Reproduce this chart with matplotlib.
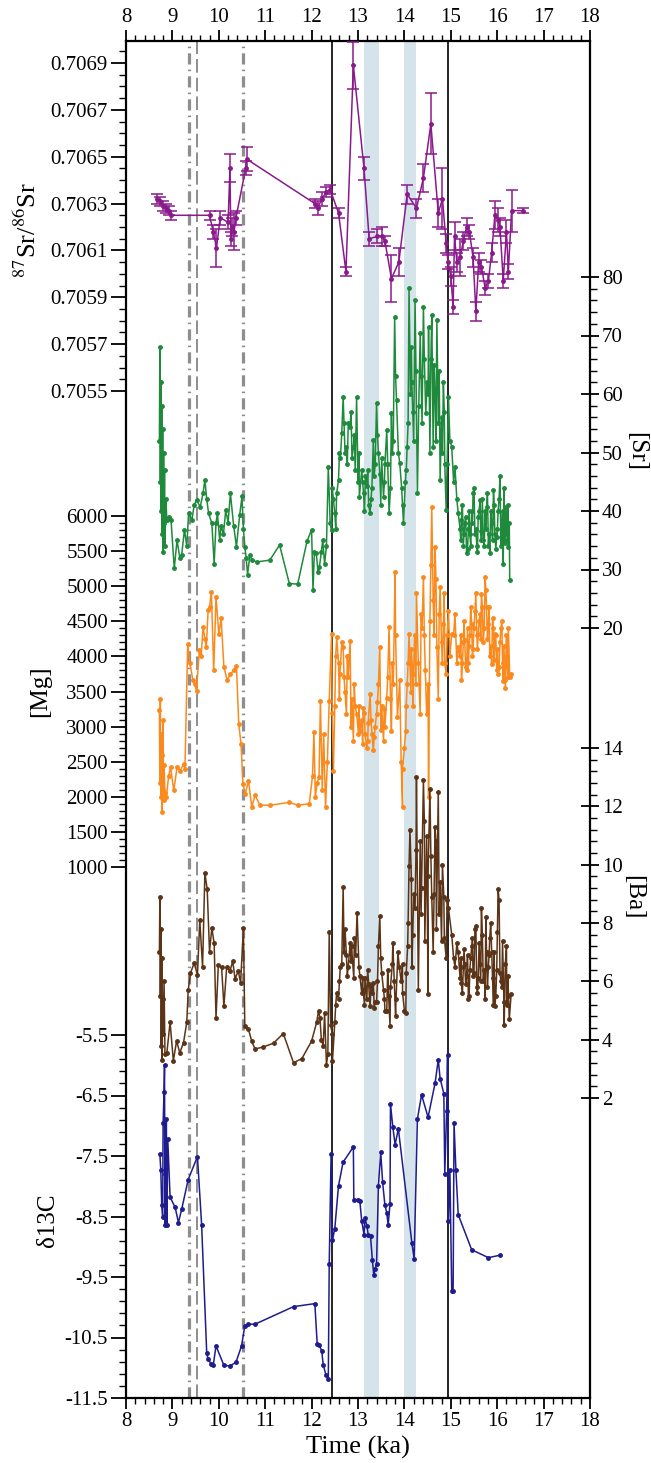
import numpy as np
import matplotlib
matplotlib.use("Agg")
import matplotlib.pyplot as plt
from matplotlib.ticker import FixedLocator, FormatStrFormatter

plt.rcParams['font.family'] = ['Liberation Serif', 'DejaVu Serif']
plt.rcParams['mathtext.fontset'] = 'stix'
plt.rcParams['axes.unicode_minus'] = False

# 87Sr/86Sr with 2-sigma bars
r_t = [8.66, 8.74, 8.80, 8.86, 8.92, 8.97, 9.80, 9.88, 9.95, 10.03,
       10.20, 10.24, 10.26, 10.28, 10.33, 10.37, 10.58, 10.60, 12.07, 12.13,
       12.22, 12.32, 12.40, 12.58, 12.74, 12.90, 13.13, 13.24, 13.42, 13.51,
       13.58, 13.72, 13.88, 14.06, 14.26, 14.41, 14.57, 14.73, 14.82, 14.90,
       14.94, 15.00, 15.05, 15.08, 15.13, 15.20, 15.27, 15.34, 15.40, 15.48,
       15.54, 15.60, 15.66, 15.74, 15.81, 15.88, 15.95, 16.02, 16.06, 16.13,
       16.20, 16.24, 16.31, 16.56]
r_v = [0.70632, 0.70631, 0.70629, 0.70628, 0.70627, 0.70625, 0.70625, 0.70618, 0.70611, 0.70624,
       0.70622, 0.70645, 0.70615, 0.70620, 0.70618, 0.70624, 0.70645, 0.70649, 0.70630, 0.70628,
       0.70632, 0.70635, 0.70636, 0.70626, 0.70601, 0.70689, 0.70645, 0.70615, 0.70616, 0.70616,
       0.70614, 0.70598, 0.70605, 0.70634, 0.70628, 0.70641, 0.70664, 0.70626, 0.70632, 0.70613,
       0.70605, 0.70599, 0.70586, 0.70616, 0.70605, 0.70607, 0.70614, 0.70620, 0.70618, 0.70607,
       0.70584, 0.70605, 0.70603, 0.70594, 0.70597, 0.70609, 0.70625, 0.70623, 0.70620, 0.70597,
       0.70618, 0.70601, 0.70627, 0.70627]
r_e = [2, 2, 2, 2, 2, 2, 2, 3, 8, 3,
       3, 6, 3, 4, 8, 3, 3, 5, 2, 3,
       3, 2, 2, 2, 2, 10, 5, 3, 3, 4,
       2, 10, 6, 4, 4, 6, 13, 6, 13, 4,
       3, 4, 3, 6, 4, 8, 4, 4, 3, 4,
       4, 4, 3, 3, 3, 4, 6, 5, 4, 3,
       5, 3, 9, 1]  # x 1e-5

# [Sr]
sr_t = [8.72, 8.73, 8.74, 8.75, 8.76, 8.77, 8.78, 8.79, 8.80, 8.81,
        8.82, 8.83, 8.84, 8.86, 8.88, 8.92, 8.97, 9.04, 9.10, 9.16,
        9.20, 9.26, 9.31, 9.35, 9.42, 9.47, 9.52, 9.60, 9.66, 9.70,
        9.74, 9.78, 9.85, 9.90, 9.94, 9.97, 10.02, 10.05, 10.10, 10.15,
        10.20, 10.25, 10.32, 10.38, 10.45, 10.50, 10.53, 10.56, 10.59, 10.62,
        10.67, 10.72, 10.82, 11.10, 11.31, 11.52, 11.70, 11.90, 12.00, 12.03,
        12.06, 12.10, 12.14, 12.17, 12.21, 12.24, 12.28, 12.32, 12.36, 12.40,
        12.43, 12.47, 12.50, 12.54, 12.58, 12.62, 12.65, 12.68, 12.72, 12.75,
        12.79, 12.83, 12.87, 12.90, 12.94, 12.97, 13.00, 13.03, 13.08, 13.12,
        13.16, 13.19, 13.23, 13.26, 13.30, 13.33, 13.37, 13.40, 13.44, 13.47,
        13.51, 13.55, 13.58, 13.62, 13.67, 13.72, 13.76, 13.79, 13.83, 13.87,
        13.90, 13.94, 13.98, 14.02, 14.06, 14.10, 14.13, 14.16, 14.20, 14.23,
        14.28, 14.31, 14.34, 14.38, 14.41, 14.46, 14.49, 14.52, 14.55, 14.59,
        14.62, 14.66, 14.70, 14.73, 14.77, 14.80, 14.84, 14.87, 14.90, 14.95,
        14.98, 15.02, 15.06, 15.09, 15.13, 15.16, 15.20, 15.23, 15.27, 15.30,
        15.34, 15.38, 15.41, 15.45, 15.48, 15.52, 15.56, 15.59, 15.63, 15.66,
        15.70, 15.74, 15.77, 15.81, 15.84, 15.88, 15.92, 15.95, 15.99, 16.02,
        16.06, 16.10, 16.13, 16.16, 16.19, 16.22, 16.24, 16.26, 16.27]
sr_v = [52, 68, 45, 62, 40, 58, 36, 54, 33, 50,
        38, 47, 34, 42, 38.5, 39, 38.5, 30.2, 35, 32,
        32.5, 36.8, 34, 39.6, 38.5, 41, 41.9, 40.7, 43, 45.3,
        42, 39.6, 37.9, 31.0, 38, 39.6, 35, 37.5, 36, 40.2,
        38, 43, 37.5, 33.9, 39.3, 42.5, 37, 33.9, 32, 29.1,
        32.5, 31.6, 31.3, 31.6, 34.2, 27.6, 27.5, 34.8, 36.8, 26.5,
        33, 32.8, 29.5, 30.5, 33, 35, 31, 34, 47.6, 38,
        36.8, 42, 39.6, 43, 45.3, 49, 53.3, 59.5, 50, 51,
        55, 54.4, 49, 51, 47, 59.5, 45, 42.4, 47, 43,
        46, 44.2, 41, 39.6, 44, 52.1, 48, 58.4, 50, 46.4,
        49, 42.4, 48, 53.8, 39.6, 56.7, 52, 73.2, 59, 50,
        48.2, 44, 37.9, 45, 51, 78.1, 60, 62, 52, 76,
        43, 58, 70.4, 55, 74.9, 56.7, 62, 71.5, 50, 73.5,
        51, 60, 72.6, 55, 45.3, 56, 62, 48, 40.2, 59.5,
        52, 51, 45, 47.6, 42, 39.6, 37, 38.5, 34, 38,
        32.8, 37, 36, 40, 43, 36, 34, 39, 41.9, 35,
        35, 40, 40.7, 34, 32.8, 38, 43.6, 36, 35.6, 40,
        45.9, 37, 31, 36, 40.7, 35, 33.9, 38, 28.2]

# [Mg]
mg_t = [8.72, 8.73, 8.74, 8.75, 8.76, 8.77, 8.78, 8.79, 8.80, 8.81,
        8.82, 8.84, 8.87, 8.92, 8.96, 9.03, 9.10, 9.17, 9.24, 9.27,
        9.33, 9.38, 9.44, 9.48, 9.52, 9.58, 9.62, 9.66, 9.70, 9.73,
        9.77, 9.80, 9.84, 9.89, 9.94, 10.00, 10.05, 10.11, 10.18, 10.25,
        10.32, 10.38, 10.43, 10.48, 10.52, 10.57, 10.64, 10.71, 10.78, 10.89,
        11.10, 11.52, 11.70, 11.95, 12.02, 12.05, 12.08, 12.12, 12.16, 12.19,
        12.23, 12.26, 12.30, 12.34, 12.38, 12.43, 12.47, 12.50, 12.54, 12.58,
        12.61, 12.65, 12.68, 12.72, 12.75, 12.79, 12.83, 12.87, 12.90, 12.94,
        12.97, 13.01, 13.04, 13.08, 13.11, 13.15, 13.19, 13.22, 13.26, 13.30,
        13.33, 13.37, 13.40, 13.44, 13.47, 13.51, 13.55, 13.58, 13.62, 13.67,
        13.72, 13.76, 13.80, 13.85, 13.90, 13.93, 13.96, 14.00, 14.03, 14.06,
        14.10, 14.14, 14.18, 14.22, 14.26, 14.30, 14.34, 14.38, 14.41, 14.45,
        14.48, 14.52, 14.55, 14.59, 14.62, 14.66, 14.70, 14.73, 14.77, 14.80,
        14.84, 14.87, 14.90, 14.95, 14.98, 15.02, 15.06, 15.09, 15.13, 15.16,
        15.20, 15.23, 15.27, 15.30, 15.34, 15.38, 15.41, 15.45, 15.48, 15.52,
        15.56, 15.59, 15.63, 15.66, 15.70, 15.74, 15.77, 15.81, 15.84, 15.88,
        15.92, 15.95, 15.99, 16.02, 16.06, 16.10, 16.13, 16.17, 16.20, 16.24,
        16.27, 16.29]
mg_v = [3230, 2200, 3400, 2000, 2900, 1780, 2600, 2100, 3100, 1950,
        2450, 2050, 2000, 2300, 2420, 2090, 2420, 2370, 2470, 2400,
        4180, 3900, 3660, 3600, 3510, 4090, 4000, 4420, 4250, 4130,
        4660, 4700, 4920, 3800, 4850, 4320, 4540, 3850, 3660, 3750,
        3800, 3870, 3040, 2750, 2180, 2040, 2230, 1850, 2020, 1880,
        1880, 1920, 1880, 1900, 2300, 2920, 2000, 2200, 2280, 3370,
        2100, 2900, 1850, 2500, 3370, 4320, 2370, 3300, 4280, 3900,
        3750, 4200, 4130, 3500, 3180, 3700, 4220, 3400, 2800, 3300,
        3180, 2900, 2940, 3100, 3270, 2900, 2700, 3050, 3460, 2900,
        2660, 3000, 3180, 3600, 4130, 3300, 2800, 3000, 3410, 4420,
        2940, 3600, 5200, 3130, 3660, 2500, 1850, 2700, 2940, 3600,
        4320, 3500, 3750, 4300, 4900, 3900, 3180, 4400, 5130, 3800,
        3180, 2000, 4500, 6130, 4800, 5560, 4130, 3400, 4990, 4200,
        4460, 3900, 3750, 4650, 4000, 4320, 4300, 4610, 3900, 4130,
        4000, 3660, 4200, 4230, 3800, 3900, 4300, 4460, 4100, 4650,
        4300, 4320, 4600, 4890, 4200, 5130, 4700, 4460, 4000, 3890,
        4400, 4320, 3800, 3750, 4200, 4510, 3650, 3660, 4300, 4410,
        3700, 3750]

# [Ba]
ba_t = [8.72, 8.73, 8.74, 8.75, 8.76, 8.77, 8.78, 8.79, 8.80, 8.82,
        8.84, 8.88, 8.95, 9.02, 9.09, 9.16, 9.24, 9.31, 9.34, 9.39,
        9.47, 9.54, 9.59, 9.65, 9.70, 9.75, 9.80, 9.85, 9.90, 9.94,
        9.99, 10.06, 10.11, 10.17, 10.24, 10.30, 10.35, 10.42, 10.47, 10.53,
        10.56, 10.64, 10.71, 10.78, 10.96, 11.18, 11.39, 11.61, 11.79, 12.00,
        12.11, 12.15, 12.18, 12.21, 12.25, 12.28, 12.32, 12.35, 12.38, 12.41,
        12.45, 12.50, 12.54, 12.58, 12.62, 12.65, 12.68, 12.72, 12.75, 12.79,
        12.83, 12.86, 12.91, 12.95, 12.98, 13.04, 13.08, 13.11, 13.15, 13.19,
        13.23, 13.26, 13.30, 13.33, 13.37, 13.40, 13.44, 13.47, 13.51, 13.55,
        13.58, 13.62, 13.66, 13.69, 13.75, 13.78, 13.82, 13.86, 13.89, 13.93,
        13.96, 14.00, 14.03, 14.07, 14.10, 14.12, 14.16, 14.20, 14.23, 14.26,
        14.30, 14.34, 14.37, 14.41, 14.44, 14.48, 14.51, 14.55, 14.59, 14.62,
        14.66, 14.69, 14.73, 14.77, 14.80, 14.85, 14.90, 14.95, 15.02, 15.06,
        15.09, 15.13, 15.16, 15.20, 15.23, 15.27, 15.30, 15.34, 15.38, 15.41,
        15.45, 15.48, 15.52, 15.56, 15.59, 15.63, 15.66, 15.70, 15.74, 15.77,
        15.81, 15.84, 15.88, 15.92, 15.95, 15.99, 16.02, 16.06, 16.10, 16.15,
        16.20, 16.23, 16.26, 16.30]
ba_v = [7.0, 8.9, 5.5, 7.8, 3.8, 6.8, 3.3, 5.4, 4.2, 6.0,
        3.5, 3.54, 4.6, 3.28, 3.95, 3.55, 3.9, 4.6, 5.69, 6.29,
        6.62, 6.22, 8.09, 6.5, 9.7, 9.16, 7.02, 7.83, 7.3, 4.75,
        6.55, 6.49, 5.15, 6.49, 6.35, 6.69, 6.09, 6.35, 5.95, 7.83,
        4.48, 4.35, 3.95, 3.68, 3.75, 3.88, 4.21, 3.21, 3.35, 3.95,
        4.6, 5.0, 4.75, 4.0, 3.8, 4.9, 3.14, 3.5, 7.7, 4.5,
        3.28, 4.6, 5.6, 5.4, 6.5, 6.6, 9.23, 7.8, 6.9, 6.5,
        7.3, 7.2, 6.1, 6.9, 8.36, 6.2, 5.6, 5.7, 6.1, 5.4,
        5.9, 5.15, 5.6, 5.95, 5.3, 5.3, 7.2, 8.23, 6.3, 5.7,
        5.0, 5.0, 5.5, 4.48, 7.3, 6.0, 5.4, 7.0, 6.5, 6.0,
        6.6, 5.0, 4.9, 7.2, 9.97, 11.19, 6.5, 9.0, 8.5, 13.0,
        5.7, 10.8, 9.2, 12.9, 7.4, 11.0, 5.55, 12.6, 8.9, 7.0,
        11.3, 7.8, 12.5, 9.4, 7.4, 8.9, 6.8, 8.5, 7.6, 6.8,
        6.5, 7.3, 7.0, 6.1, 5.95, 6.5, 6.6, 6.2, 5.4, 6.4,
        7.2, 6.2, 7.8, 5.8, 6.1, 6.6, 8.5, 6.0, 5.4, 7.0,
        6.5, 7.5, 7.0, 5.2, 5.15, 6.4, 9.16, 6.3, 5.8, 4.5,
        7.2, 5.5, 4.7, 5.55]

# extra laser spots in the dense part of the record (shared by Sr, Mg, Ba)
extra_t = [12.445, 12.52, 12.60, 12.70, 12.77, 12.85, 12.92, 13.02, 13.10, 13.14,
           13.21, 13.28, 13.35, 13.42, 13.49, 13.57, 13.64, 13.70, 13.74, 13.81,
           13.96, 14.04, 14.08, 14.15, 14.18, 14.25, 14.36, 14.43, 14.51, 14.57,
           14.64, 14.68, 14.75, 14.82, 14.86, 14.92,
           15.215, 15.25, 15.285, 15.32, 15.36, 15.395, 15.43, 15.465, 15.50, 15.54,
           15.575, 15.61, 15.645, 15.68, 15.72, 15.755, 15.79, 15.825, 15.86, 15.90,
           15.935, 15.97, 16.005, 16.04, 16.08, 16.115, 16.145, 16.175, 16.205, 16.23]
extra_sr = [44, 37, 50, 55, 48, 57, 53, 50, 45, 40,
            47, 42, 46, 53, 41, 45, 48, 44, 50, 63,
            41, 47, 55, 68, 57, 64, 63, 66, 60, 66,
            65, 52, 64, 50, 57, 48,
            35, 41, 36, 39, 33.5, 40, 34, 38, 44, 37,
            33, 40, 36.5, 42, 34, 37, 43, 36, 40, 35,
            41, 33.5, 37, 42, 34, 40, 44, 34.5, 38, 41]
extra_mg = [3200, 4000, 3400, 3700, 4000, 3000, 3600, 3300, 2750, 3200,
            2800, 3100, 2850, 3350, 2950, 3250, 3700, 3400, 3900, 4300,
            2400, 3300, 3900, 4100, 3300, 3600, 4600, 4300, 3600, 5300,
            4300, 5100, 4600, 3900, 4900, 4300,
            4300, 3900, 4500, 3850, 4400, 4150, 4700, 4000, 4400, 4900,
            4100, 4500, 4250, 4700, 4400, 4950, 4250, 4700, 4150, 4550,
            3950, 4300, 4100, 3850, 4400, 3900, 4150, 3550, 4000, 3700]
extra_ba = [4.2, 5.2, 6.0, 7.0, 6.2, 6.7, 7.5, 6.5, 6.1, 5.2,
            6.4, 5.8, 5.1, 6.0, 6.8, 5.4, 6.4, 5.8, 6.6, 4.8,
            5.6, 6.3, 8.0, 9.5, 7.6, 10.5, 8.3, 11.5, 9.6, 10.3,
            9.0, 10.8, 8.3, 10.0, 7.5, 8.8,
            6.8, 5.6, 7.1, 5.9, 6.9, 5.5, 6.8, 7.5, 6.3, 7.9,
            5.6, 7.3, 6.0, 7.6, 6.4, 8.2, 5.8, 6.9, 8.0, 6.1,
            7.0, 5.5, 7.7, 8.8, 6.0, 7.4, 5.3, 6.6, 5.2, 6.2]

# d13C
c_t = [8.73, 8.75, 8.77, 8.79, 8.80, 8.82, 8.83, 8.84, 8.85, 8.87,
       8.88, 8.90, 8.95, 9.06, 9.13, 9.20, 9.34, 9.54, 9.63, 9.74,
       9.77, 9.83, 9.88, 9.94, 10.11, 10.24, 10.37, 10.49, 10.56, 10.64,
       10.78, 11.61, 12.07, 12.12, 12.17, 12.22, 12.25, 12.31, 12.36, 12.38,
       12.42, 12.45, 12.50, 12.58, 12.68, 12.90, 12.91, 13.01, 13.04, 13.08,
       13.13, 13.15, 13.19, 13.22, 13.27, 13.31, 13.34, 13.37, 13.40, 13.44,
       13.49, 13.53, 13.58, 13.62, 13.65, 13.69, 13.70, 13.75, 13.80, 13.87,
       14.16, 14.21, 14.28, 14.37, 14.51, 14.66, 14.73, 14.77, 14.85, 14.87,
       14.91, 14.93, 14.95, 14.98, 15.02, 15.05, 15.07, 15.11, 15.16, 15.45,
       15.81, 16.06]
c_v = [-7.47, -7.73, -8.31, -8.5, -6.96, -6.44, -5.99, -8.64, -7.8, -6.89,
       -8.64, -7.22, -8.18, -8.35, -8.6, -8.38, -7.89, -7.51, -8.64, -10.76,
       -10.86, -10.93, -10.96, -10.64, -10.96, -10.97, -10.91, -10.64, -10.31, -10.28,
       -10.28, -9.99, -9.94, -10.6, -10.63, -10.73, -10.95, -11.12, -11.18, -9.28,
       -7.47, -8.89, -8.7, -7.99, -7.6, -7.35, -8.22, -8.22, -8.25, -8.57,
       -8.8, -8.52, -8.65, -8.8, -8.83, -9.22, -9.47, -9.37, -9.28, -7.99,
       -7.44, -7.93, -8.31, -8.44, -8.64, -8.29, -6.64, -7.02, -7.31, -7.05,
       -8.93, -9.2, -6.89, -6.49, -6.86, -6.3, -5.91, -6.22, -6.47, -7.8,
       -6.76, -5.83, -8.57, -7.73, -9.73, -9.73, -6.96, -7.73, -8.47, -9.05,
       -9.18, -9.14]

# event markers
solid_lines = [12.45, 14.93]
dashdot_lines = [9.36, 10.53]
dashed_lines = [9.54]
bands = [(13.14, 13.46), (13.99, 14.26)]

W, H = 651, 1463
L, R, T, B = 126, 590, 41, 1398
rect = [L / W, 1 - B / H, (R - L) / W, (B - T) / H]

fig = plt.figure(figsize=(W / 100, H / 100), dpi=100)
ax = fig.add_axes(rect)
ax.set_xlim(8, 18)
ax.set_ylim(0, 1)
ax.set_yticks([])
ax.xaxis.set_major_locator(FixedLocator(range(8, 19)))
ax.xaxis.set_minor_locator(FixedLocator(np.arange(8, 18.01, 0.2)))
ax.tick_params(axis='x', which='both', direction='out', top=True, labeltop=True,
               labelsize=15)
ax.tick_params(axis='x', which='major', length=8, width=1.3, pad=2)
ax.tick_params(axis='x', which='minor', length=4, width=1.0)
for s in ax.spines.values():
    s.set_linewidth(1.6)

for a, b in bands:
    ax.axvspan(a, b, color='#d4e4ea', lw=0, zorder=0)
for x in solid_lines:
    ax.axvline(x, color='black', lw=1.2, zorder=1)
for x in dashdot_lines:
    ax.axvline(x, color='#8e8e8e', lw=2.3, ls=(0, (3.5, 1.6, 0.5, 1.6)), zorder=1)
for x in dashed_lines:
    ax.axvline(x, color='#8e8e8e', lw=1.4, ls=(0, (7, 2.6)), zorder=1)


def merged(t, v, t2, v2):
    tt = np.concatenate([t, t2])
    vv = np.concatenate([v, v2])
    o = np.argsort(tt, kind='stable')
    return tt[o], vv[o]


def layer(v1, p1, v2, p2):
    # overlay axes whose y scale puts v1 at pixel row p1 and v2 at p2
    a = fig.add_axes(rect)
    k = (v1 - v2) / (p2 - p1)
    a.set_ylim(v2 - (B - p2) * k, v1 + (p1 - T) * k)
    a.set_xlim(8, 18)
    a.patch.set_visible(False)
    for s in a.spines.values():
        s.set_visible(False)
    a.xaxis.set_visible(False)
    return a


def left_ticks(a, major, minor, fmt):
    a.yaxis.set_major_locator(FixedLocator(major))
    a.yaxis.set_minor_locator(FixedLocator(minor))
    a.yaxis.set_major_formatter(FormatStrFormatter(fmt))
    a.tick_params(axis='y', which='both', direction='out', labelsize=15)
    a.tick_params(axis='y', which='major', length=11, width=1.3, pad=2)
    a.tick_params(axis='y', which='minor', length=5, width=1.0)


def right_ticks(a, major, minor):
    a.yaxis.tick_right()
    a.yaxis.set_major_locator(FixedLocator(major))
    a.yaxis.set_minor_locator(FixedLocator(minor))
    a.yaxis.set_major_formatter(FormatStrFormatter('%d'))
    a.tick_params(axis='y', which='major', direction='inout', length=13, width=1.3,
                  labelsize=15, pad=2)
    a.tick_params(axis='y', which='minor', direction='out', length=5, width=1.0)


kw = dict(marker='o', ms=2.5, lw=1.1)

a1 = layer(0.7069, 63, 0.7055, 391)
a1.errorbar(r_t, r_v, yerr=np.array(r_e) * 1e-5, color='#8a1a8c', capsize=4,
            elinewidth=1.1, capthick=1.1, **kw)
left_ticks(a1, [0.7055, 0.7057, 0.7059, 0.7061, 0.7063, 0.7065, 0.7067, 0.7069],
           np.arange(0.7055, 0.706951, 0.00005), '%.4f')

a2 = layer(80, 277, 20, 628)
a2.plot(*merged(sr_t, sr_v, extra_t, extra_sr), color='#1f8a3c', **kw)
right_ticks(a2, range(20, 81, 10), np.arange(20, 80.1, 2))

a3 = layer(6000, 516, 1000, 867)
a3.plot(*merged(mg_t, mg_v, extra_t, extra_mg), color='#fb8a1e', **kw)
left_ticks(a3, range(1000, 6001, 500), np.arange(1000, 6001, 100), '%d')

a4 = layer(14, 748, 2, 1098)
a4.plot(*merged(ba_t, ba_v, extra_t, extra_ba), color='#5b3418', **kw)
right_ticks(a4, range(2, 15, 2), np.arange(2, 14.01, 0.4))

a5 = layer(-5.5, 1035, -11.5, 1398)
a5.plot(c_t, c_v, color='#1e1c8e', **kw)
left_ticks(a5, np.arange(-11.5, -5.4, 1.0), np.arange(-11.5, -5.49, 0.2), '%.1f')


def fx(px):
    return px / W


def fy(py):
    return 1 - py / H


fig.text(fx(28), fy(230), r'$^{87}$Sr/$^{86}$Sr', rotation=90, ha='center', va='center', fontsize=19)
fig.text(fx(40), fy(691), '[Mg]', rotation=90, ha='center', va='center', fontsize=18)
fig.text(fx(48), fy(1220), 'δ13C', rotation=90, ha='center', va='center', fontsize=18)
fig.text(fx(636), fy(451), '[Sr]', rotation=270, ha='center', va='center', fontsize=18)
fig.text(fx(633), fy(897), '[Ba]', rotation=270, ha='center', va='center', fontsize=18)
fig.text(fx(358), fy(1447), 'Time (ka)', ha='center', va='center', fontsize=19)

fig.savefig('out.png', dpi=100)
